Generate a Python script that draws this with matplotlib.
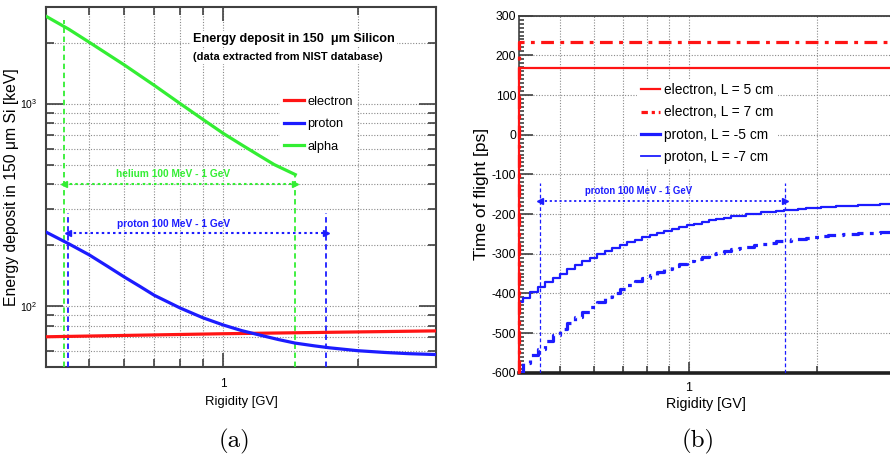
import matplotlib
matplotlib.use("Agg")
import matplotlib.pyplot as plt
from matplotlib.lines import Line2D
from matplotlib.ticker import FixedLocator, NullFormatter, FixedFormatter, MultipleLocator

SANS = ['Liberation Sans', 'DejaVu Sans']
plt.rcParams['font.family'] = SANS
plt.rcParams['axes.unicode_minus'] = False
plt.rcParams['mathtext.fontset'] = 'custom'
plt.rcParams['mathtext.rm'] = 'Liberation Sans'
plt.rcParams['mathtext.it'] = 'Liberation Sans:italic'
plt.rcParams['mathtext.bf'] = 'Liberation Sans:bold'

# ---------------- panel (a): energy deposit ----------------
electron_R = [0.4, 1.0, 3.0]
electron_E = [70.5, 73.0, 75.4]
proton_R = [0.4, 0.45, 0.5, 0.55, 0.6, 0.65, 0.7, 0.8, 0.9, 1.0, 1.1, 1.21, 1.33, 1.45, 1.6, 1.73, 2.0, 2.3, 2.6, 3.0]
proton_E = [232, 203, 179, 157, 139, 125, 113, 97.8, 87.5, 80.6, 75.6, 71.8, 68.3, 65.6, 63.6, 62.2, 60.2, 59.0, 58.2, 57.6]
alpha_R = [0.4, 0.45, 0.5, 0.6, 0.7, 0.8, 0.9, 1.0, 1.1, 1.2, 1.3, 1.45]
alpha_E = [2700, 2330, 2010, 1550, 1230, 1000, 835, 712, 625, 556, 500, 446]

helium_range = [0.44, 1.45]
helium_vtop = [2600, 446]
helium_arrow_E = 402
proton_range_a = [0.448, 1.696]
proton_vtop_a = 288
proton_arrow_E = 230

# ---------------- panel (b): time of flight ----------------
elec_tof_R = [0.4, 0.4, 3.0]
elec_tof_5 = [-600, 167, 167]
elec_tof_7 = [-600, 233.5, 233.5]
prot_tof_R = [0.400, 0.416, 0.434, 0.451, 0.470, 0.489, 0.509, 0.530, 0.552, 0.575,
              0.598, 0.623, 0.649, 0.675, 0.703, 0.732, 0.762, 0.793, 0.826, 0.860,
              0.895, 0.932, 0.970, 1.010, 1.051, 1.094, 1.139, 1.186, 1.235, 1.285,
              1.338, 1.393, 1.450, 1.510, 1.572, 1.636, 1.704, 1.774, 1.846, 1.922,
              2.001, 2.083, 2.169, 2.258, 2.351, 2.447, 2.548, 2.652, 2.761, 2.875, 2.993]
prot_tof_5 = [-422, -411, -397, -385, -372, -361, -350, -339, -329, -319,
              -310, -301, -293, -286, -278, -271, -265, -258, -252, -247,
              -242, -237, -232, -228, -224, -220, -216, -213, -209, -206,
              -204, -201, -199, -196, -194, -192, -190, -189, -187, -186,
              -184, -183, -182, -181, -180, -179, -178, -177, -176, -175, -175]
prot_tof_7 = [-597, -575, -556, -539, -521, -505, -490, -475, -460, -447,
              -434, -422, -410, -400, -389, -380, -370, -362, -353, -345,
              -338, -331, -325, -319, -313, -308, -302, -298, -293, -289,
              -285, -282, -278, -275, -272, -269, -267, -264, -262, -260,
              -258, -256, -254, -253, -251, -250, -249, -248, -247, -245, -245]
proton_range_b = [0.447, 1.68]
proton_vtop_b = -121
proton_arrow_t = -168

RED = '#ff1414'
BLUE = '#1c1cff'
GREEN = '#33ee33'
GRID = '#8a8a8a'
FRAME = '#404040'

W, H = 890, 459
fig = plt.figure(figsize=(W / 100, H / 100), dpi=100)


def px_axes(l, t, r, b):
    return fig.add_axes([l / W, 1 - b / H, (r - l) / W, (b - t) / H])


# ======================= (a) =======================
axa = px_axes(46, 7, 436, 367)
axa.set_xscale('log')
axa.set_yscale('log')
axa.set_xlim(0.4, 3.0)
axa.set_ylim(50, 3000)
axa.set_axisbelow(True)

axa.plot(electron_R, electron_E, color=RED, lw=2.3, label='electron', zorder=4)
axa.plot(proton_R, proton_E, color=BLUE, lw=2.3, label='proton', zorder=4)
axa.plot(alpha_R, alpha_E, color=GREEN, lw=2.3, label='alpha', zorder=4)

axa.vlines(helium_range, 50, helium_vtop, colors=GREEN, linestyles=(0, (3, 2)), lw=1.3, zorder=3)
axa.vlines(proton_range_a, 50, proton_vtop_a, colors=BLUE, linestyles=(0, (3, 2)), lw=1.3, zorder=3)
axa.plot(helium_range, [helium_arrow_E] * 2, color=GREEN, ls=(0, (1.2, 1.5)), lw=1.5, zorder=3)
axa.plot(helium_range[0], helium_arrow_E, marker='<', color=GREEN, ms=4, zorder=3)
axa.plot(helium_range[1], helium_arrow_E, marker='>', color=GREEN, ms=4, zorder=3)
axa.plot(proton_range_a, [proton_arrow_E] * 2, color=BLUE, ls=(0, (1.2, 1.5)), lw=1.5, zorder=3)
axa.plot(proton_range_a[0], proton_arrow_E, marker='<', color=BLUE, ms=4, zorder=3)
axa.plot(proton_range_a[1], proton_arrow_E, marker='>', color=BLUE, ms=4, zorder=3)

axa.text(0.773, 450, 'helium 100 MeV - 1 GeV', color=GREEN, fontsize=7.3,
         fontweight='bold', ha='center', va='center')
axa.text(0.775, 255, 'proton 100 MeV - 1 GeV', color=BLUE, fontsize=7.3,
         fontweight='bold', ha='center', va='center')

axa.text(0.377, 0.911, 'Energy deposit in 150  \u03bcm Silicon', transform=axa.transAxes,
         fontsize=9.1, fontweight='bold', ha='left', va='center',
         bbox=dict(facecolor='white', edgecolor='none', pad=1.5))
axa.text(0.377, 0.861, '(data extracted from NIST database)', transform=axa.transAxes,
         fontsize=7.9, fontweight='bold', ha='left', va='center',
         bbox=dict(facecolor='white', edgecolor='none', pad=1.5))

lega = axa.legend(loc='upper left', bbox_to_anchor=((283 - 46 - 3) / 390, (367 - 92) / 360),
                  fontsize=9.2, frameon=True, facecolor='white', edgecolor='none',
                  framealpha=1, fancybox=False, borderpad=0.3, borderaxespad=0,
                  handlelength=1.55, handletextpad=0.3, labelspacing=0.82)
for h in lega.get_lines():
    h.set_linewidth(2.3)

axa.xaxis.set_major_locator(FixedLocator([1.0]))
axa.xaxis.set_major_formatter(FixedFormatter(['1']))
axa.xaxis.set_minor_locator(FixedLocator([0.5, 0.6, 0.7, 0.8, 0.9, 2.0]))
axa.xaxis.set_minor_formatter(NullFormatter())
axa.yaxis.set_major_locator(FixedLocator([100, 1000]))
axa.yaxis.set_major_formatter(FixedFormatter([r'$10^{2}$', r'$10^{3}$']))
axa.yaxis.set_minor_locator(FixedLocator([60, 70, 80, 90, 200, 300, 400, 500, 600, 700, 800, 900, 2000]))
axa.yaxis.set_minor_formatter(NullFormatter())
axa.grid(True, which='both', ls=(0, (1, 1.5)), color=GRID, lw=0.8)
axa.tick_params(which='both', direction='in', top=True, right=True, color=FRAME, width=1.2)
axa.tick_params(axis='y', which='major', length=12, pad=6, labelsize=7.5)
axa.tick_params(axis='y', which='minor', length=6)
axa.tick_params(axis='x', which='major', length=10, pad=8, labelsize=8.5)
axa.tick_params(axis='x', which='minor', length=6)
for sp in axa.spines.values():
    sp.set_color(FRAME)
    sp.set_linewidth(1.5)

axa.set_xlabel('Rigidity [GV]', fontsize=9.4)
axa.xaxis.set_label_coords(0.5, -(396 - 367) / 360)
axa.set_ylabel('Energy deposit in 150 \u03bcm Si [keV]', fontsize=11.3)
axa.yaxis.set_label_coords((19 - 46) / 390, 0.5)

# ======================= (b) =======================
axb = px_axes(519, 15.7, 892, 372.7)
axb.set_xscale('log')
axb.set_xlim(0.4, 3.0)
axb.set_ylim(-600, 300)
axb.set_axisbelow(True)

axb.plot(elec_tof_R, elec_tof_5, color=RED, lw=1.6, zorder=5, clip_on=False)
axb.plot(elec_tof_R, elec_tof_7, color=RED, lw=2.3, ls=(0, (4, 2, 1.2, 2)), zorder=5, clip_on=False)
axb.plot(prot_tof_R, prot_tof_5, color=BLUE, lw=1.6, drawstyle='steps-mid', zorder=4)
axb.plot(prot_tof_R, prot_tof_7, color=BLUE, lw=2.3, ls=(0, (4, 2, 1.2, 2)),
         drawstyle='steps-mid', zorder=4)

axb.vlines(proton_range_b, -600, proton_vtop_b, colors=BLUE, linestyles=(0, (3, 2)), lw=0.9, zorder=3)
axb.plot(proton_range_b, [proton_arrow_t] * 2, color=BLUE, ls=(0, (1.2, 1.5)), lw=1.3, zorder=3)
axb.plot(proton_range_b[0], proton_arrow_t, marker='<', color=BLUE, ms=4, zorder=3)
axb.plot(proton_range_b[1], proton_arrow_t, marker='>', color=BLUE, ms=4, zorder=3)
axb.text(0.761, -141, 'proton 100 MeV - 1 GeV', color=BLUE, fontsize=6.9,
         fontweight='bold', ha='center', va='center')

handles = [Line2D([], [], color=RED, lw=1.6),
           Line2D([], [], color=RED, lw=2.3, ls=(0, (2, 1.2, 1, 1.2))),
           Line2D([], [], color=BLUE, lw=2.3),
           Line2D([], [], color=BLUE, lw=1.3)]
labels = ['electron, L = 5 cm', 'electron, L = 7 cm', 'proton, L = -5 cm', 'proton, L = -7 cm']
legb = axb.legend(handles, labels, loc='upper left',
                  bbox_to_anchor=((640 - 519 - 3) / 373, (372.7 - 79) / 357),
                  fontsize=9.9, frameon=True, facecolor='white', edgecolor='none',
                  framealpha=1, fancybox=False, borderpad=0.3, borderaxespad=0,
                  handlelength=1.4, handletextpad=0.3, labelspacing=0.6)

axb.xaxis.set_major_locator(FixedLocator([1.0]))
axb.xaxis.set_major_formatter(FixedFormatter(['1']))
axb.xaxis.set_minor_locator(FixedLocator([0.5, 0.6, 0.7, 0.8, 0.9, 2.0]))
axb.xaxis.set_minor_formatter(NullFormatter())
axb.yaxis.set_major_locator(MultipleLocator(100))
axb.yaxis.set_minor_locator(MultipleLocator(10))
axb.grid(True, which='major', axis='y', ls=(0, (1, 1.5)), color=GRID, lw=0.8)
axb.grid(True, which='both', axis='x', ls=(0, (1, 1.5)), color=GRID, lw=0.8)
axb.tick_params(which='both', direction='in', color=FRAME, width=1.2)
axb.tick_params(axis='y', which='major', length=10, pad=2, labelsize=8.7)
axb.tick_params(axis='y', which='minor', length=3.5)
axb.tick_params(axis='x', which='major', length=8, pad=7, labelsize=9)
axb.tick_params(axis='x', which='minor', length=5)
axb.spines['bottom'].set_linewidth(2.6)
axb.spines['bottom'].set_color('#202020')
axb.spines['left'].set_linewidth(1.2)
axb.spines['left'].set_color(FRAME)
axb.spines['top'].set_linewidth(1.3)
axb.spines['top'].set_color(FRAME)
axb.spines['right'].set_visible(False)

axb.set_xlabel('Rigidity [GV]', fontsize=10.3)
axb.xaxis.set_label_coords(0.5, -(397 - 372.7) / 357)
axb.set_ylabel('Time of flight [ps]', fontsize=12.5)
axb.yaxis.set_label_coords((489 - 519) / 373, 0.5)

# captions
fig.text(235 / W, 1 - 441 / H, '(a)', fontsize=18, family='cmr10', ha='center', va='center')
fig.text(698 / W, 1 - 441 / H, '(b)', fontsize=18, family='cmr10', ha='center', va='center')

fig.savefig('out.png', dpi=100)
